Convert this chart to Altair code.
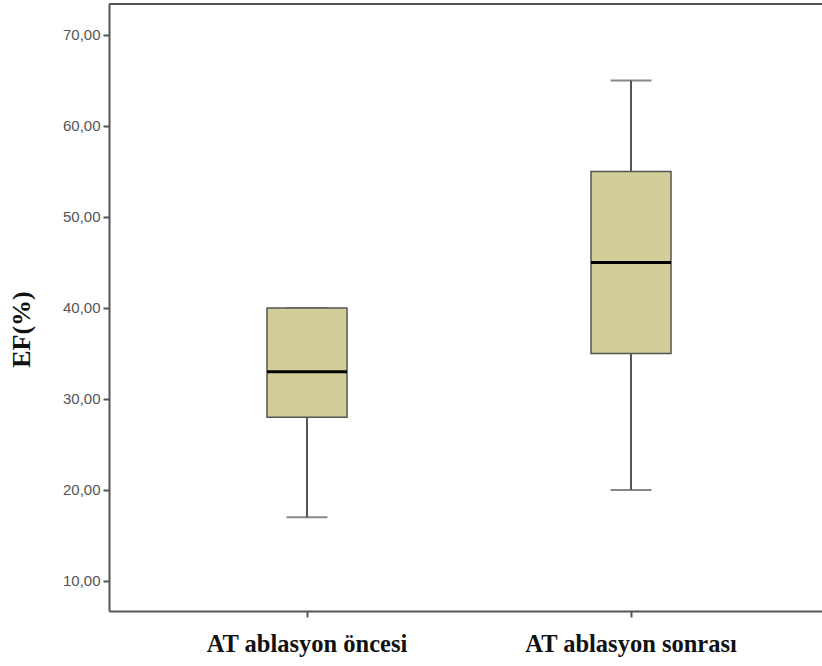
import altair as alt
import pandas as pd

groups = ["AT ablasyon öncesi", "AT ablasyon sonrası"]
mins = [17, 20]
q1s = [28, 35]
medians = [33, 45]
q3s = [40, 55]
maxs = [40, 65]
y_ticks = [10, 20, 30, 40, 50, 60, 70]

df = pd.DataFrame({"group": groups, "min": mins, "q1": q1s, "median": medians,
                   "q3": q3s, "max": maxs})

W, H = 713, 607

x_enc = alt.X("group:N", sort=groups, title=None,
              scale=alt.Scale(paddingInner=0, paddingOuter=0.1003, align=0.554),
              axis=alt.Axis(labelFont="Liberation Serif", labelFontWeight="bold",
                            labelFontSize=24.5, labelColor="#111", labelAngle=0,
                            labelLimit=0, labelPadding=15, tickSize=6, tickColor="#555",
                            tickWidth=2, domainColor="#555", domainWidth=2,
                            grid=False))
y_scale = alt.Scale(domain=[6.7, 73.4], nice=False, zero=False)
y_axis = alt.Axis(values=y_ticks, labelExpr="replace(format(datum.value, '.2f'), '.', ',')",
                  labelFont="Arial", labelFontSize=15, labelColor="#555",
                  labelPadding=3, tickSize=6, tickColor="#555", tickWidth=2,
                  domainColor="#555", domainWidth=2, grid=False,
                  title="EF(%)", titleFont="Liberation Serif", titleFontWeight="bold",
                  titleFontSize=26, titleColor="#111", titleX=-88, titleY=325,
                  titleAngle=-90, titleAlign="center", titleBaseline="middle")

base = alt.Chart(df)

whisker = base.mark_rule(color="#555", strokeWidth=2).encode(
    x=x_enc,
    y=alt.Y("min:Q", scale=y_scale, axis=y_axis),
    y2="max:Q")

caps_lo = base.mark_tick(color="#555", size=41, thickness=2).encode(
    x=alt.X("group:N", sort=groups), y=alt.Y("min:Q"))
caps_hi = base.mark_tick(color="#555", size=41, thickness=2).encode(
    x=alt.X("group:N", sort=groups), y=alt.Y("max:Q"))

box = base.mark_bar(size=80, fill="#D3CE99", stroke="#555", strokeWidth=1.5).encode(
    x=alt.X("group:N", sort=groups), y=alt.Y("q1:Q"), y2="q3:Q")

med = base.mark_tick(color="#000", size=80, thickness=3, opacity=1).encode(
    x=alt.X("group:N", sort=groups), y=alt.Y("median:Q"))

top = alt.Chart(pd.DataFrame({"v": [0]})).mark_rule(color="#555", strokeWidth=2).encode(
    x=alt.value(0), x2=alt.value(W), y=alt.value(0))

chart = alt.layer(whisker, caps_lo, caps_hi, box, med, top).properties(
    width=W, height=H,
    autosize=alt.AutoSizeParams(type="none"),
    padding={"left": 109, "top": 4, "right": 0, "bottom": 55},
).configure_view(stroke=None).configure(background="white")

chart.save("out.html", embed_options={"renderer": "svg", "actions": False})
